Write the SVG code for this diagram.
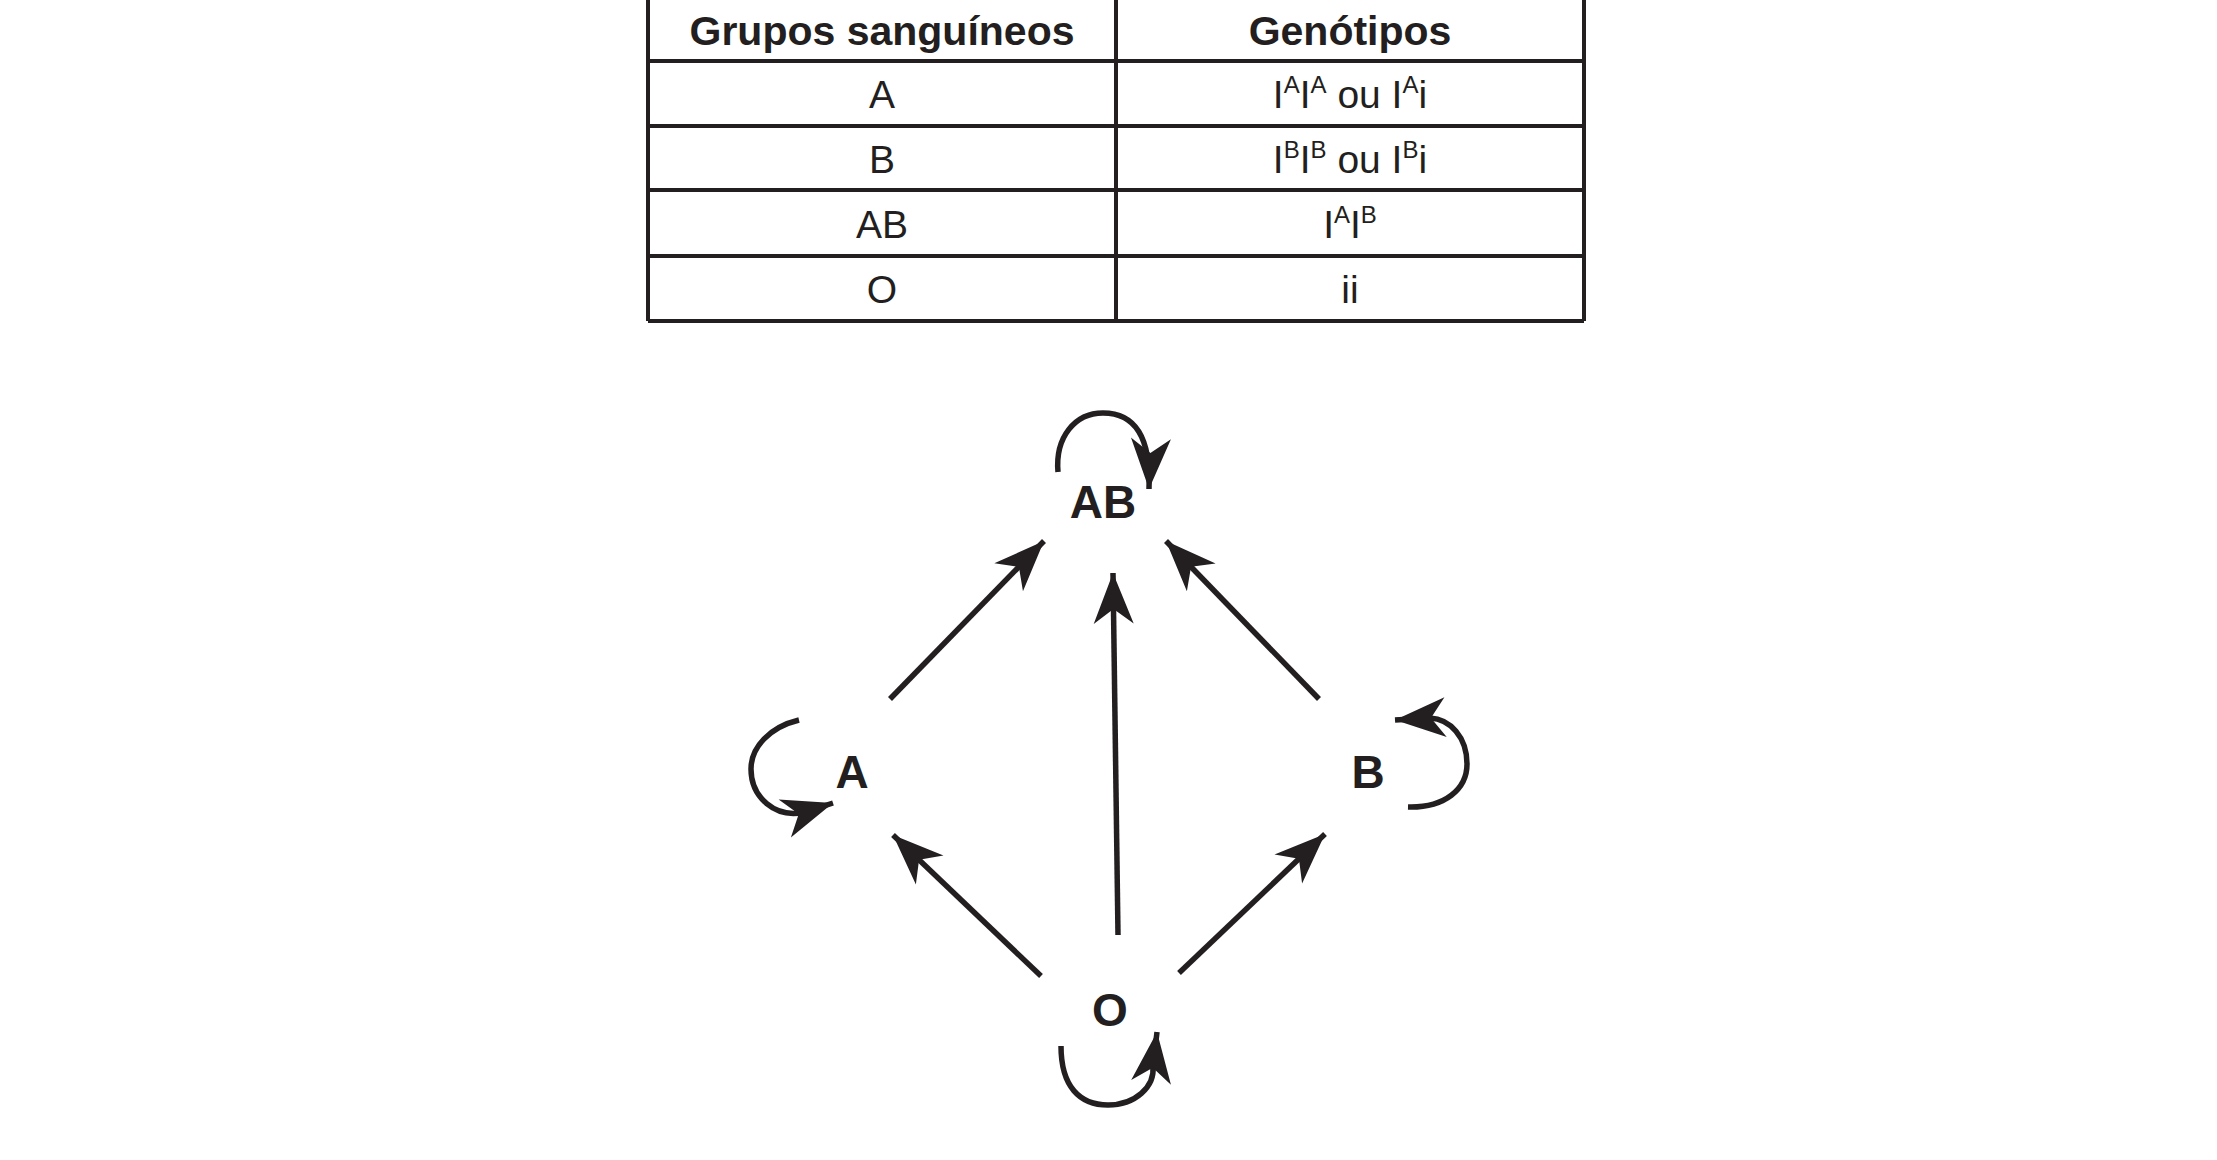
<svg xmlns="http://www.w3.org/2000/svg" width="2217" height="1160" viewBox="0 0 2217 1160">
<style>
.g{stroke:#231f20;stroke-width:4;fill:none}
.c{stroke:#231f20;stroke-width:5.5;fill:none}
.h{font-family:"Liberation Sans",Arial,sans-serif;font-weight:bold;font-size:41px;fill:#231f20;text-anchor:middle}
.t{font-family:"Liberation Sans",Arial,sans-serif;font-size:39px;fill:#231f20;text-anchor:middle}
.n{font-family:"Liberation Sans",Arial,sans-serif;font-weight:bold;font-size:46px;fill:#231f20;text-anchor:middle}
.s{font-size:24px}
</style>
<defs>
<marker id="ah" markerUnits="userSpaceOnUse" markerWidth="60" markerHeight="60" viewBox="-40 -20 45 40" refX="0" refY="0" orient="auto">
<path d="M0,0 L-38,-15 L-27,0 L-38,15 Z" fill="#231f20"/>
</marker>
</defs>
<rect width="2217" height="1160" fill="#fff"/>
<g id="table">
<path class="g" d="M648,0 V321 M1116,0 V321 M1584,0 V321 M648,61 H1584 M648,126 H1584 M648,190 H1584 M648,256 H1584 M648,321 H1584"/>
<text class="h" x="882" y="45">Grupos sanguíneos</text>
<text class="h" x="1350" y="45">Genótipos</text>
<text class="t" x="882" y="108">A</text>
<text class="t" x="882" y="173">B</text>
<text class="t" x="882" y="238">AB</text>
<text class="t" x="882" y="303">O</text>
<text class="t" x="1350" y="108">I<tspan class="s" dy="-15">A</tspan><tspan dy="15">I</tspan><tspan class="s" dy="-15">A</tspan><tspan dy="15"> ou I</tspan><tspan class="s" dy="-15">A</tspan><tspan dy="15">i</tspan></text>
<text class="t" x="1350" y="173">I<tspan class="s" dy="-15">B</tspan><tspan dy="15">I</tspan><tspan class="s" dy="-15">B</tspan><tspan dy="15"> ou I</tspan><tspan class="s" dy="-15">B</tspan><tspan dy="15">i</tspan></text>
<text class="t" x="1350" y="238">I<tspan class="s" dy="-15">A</tspan><tspan dy="15">I</tspan><tspan class="s" dy="-15">B</tspan></text>
<text class="t" x="1350" y="303">ii</text>
</g>
<g transform="translate(-5,-3)">
<g id="node-AB"><text class="n" x="1108" y="521">AB</text></g>
<g id="node-A"><text class="n" x="857" y="791">A</text></g>
<g id="node-B"><text class="n" x="1373" y="791">B</text></g>
<g id="node-O"><text class="n" x="1115" y="1029">O</text></g>
<g id="connectors">
<path class="c" marker-end="url(#ah)" d="M895,702 L1049,544"/>
<path class="c" marker-end="url(#ah)" d="M1123,938 L1118,576"/>
<path class="c" marker-end="url(#ah)" d="M1324,702 L1171,544"/>
<path class="c" marker-end="url(#ah)" d="M1046,979 L898,838"/>
<path class="c" marker-end="url(#ah)" d="M1184,976 L1330,837"/>
<path class="c" marker-end="url(#ah)" d="M1063,475 C1060,440 1080,416 1108,416 C1140,416 1156,440 1154,492"/>
<path class="c" marker-end="url(#ah)" d="M804,723 C775,730 756,750 756,772 C756,800 780,822 810,815 L838,806"/>
<path class="c" marker-end="url(#ah)" d="M1413,810 C1450,811 1472,792 1472,767 C1472,740 1455,722 1435,721 L1400,723"/>
<path class="c" marker-end="url(#ah)" d="M1066,1049 C1066,1090 1085,1108 1113,1108 C1140,1108 1160,1090 1158,1069 L1162,1035"/>
</g>
</g>
</svg>
